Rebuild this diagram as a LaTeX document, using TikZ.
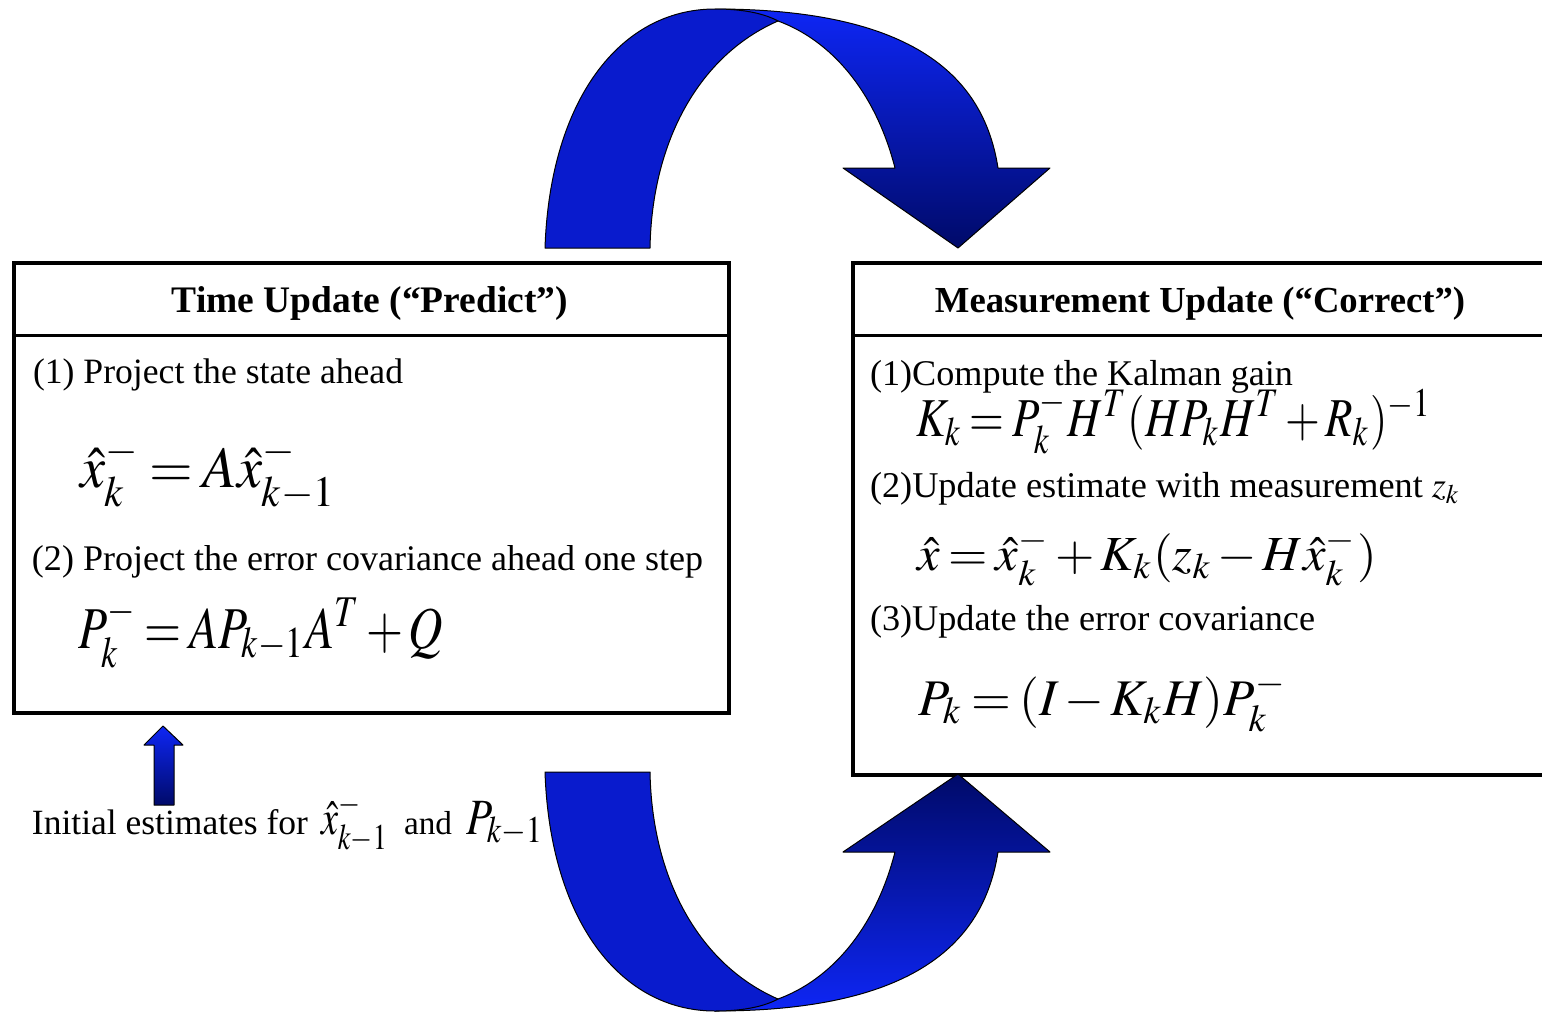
\documentclass[tikz,border=0pt]{standalone}
\usepackage{graphicx}
\usepackage{mathptmx}
\usepackage{fontspec}
\setmainfont{Liberation Serif}

\definecolor{leftblue}{RGB}{9,27,205}
\definecolor{brightblue}{RGB}{14,38,245}
\definecolor{midblue}{RGB}{10,30,212}
\definecolor{darkblue}{RGB}{0,10,105}

\newcommand{\fw}[2]{\resizebox{#1}{!}{#2}}
\newcommand{\fwh}[3]{\resizebox{#1}{#2}{#3}}
\newcommand{\tightm}{\thickmuskip=3mu \medmuskip=2mu}
\newcommand{\lsup}[1]{\raisebox{-0.45ex}{$\scriptstyle #1$}}

\begin{document}
\begin{tikzpicture}[x=0.5pt,y=-0.5pt,
  lbl/.style={anchor=base west, inner sep=0pt, outer sep=0pt},
  ttl/.style={anchor=base, inner sep=0pt, outer sep=0pt},
  boxst/.style={draw=black, line width=2pt, inner sep=0pt, fill=white},
  hdr/.style={line width=1.5pt},
  band/.style={draw=black, line width=0.5pt, line join=round},
]
\useasboundingbox (0,0) rectangle (1542,1012);
\clip (0,0) rectangle (1542,1012);

% boxes
\node[boxst, minimum width=357.5pt, minimum height=225pt] (tbox) at (371.5,488) {};
\node[boxst, minimum width=353.5pt, minimum height=256pt] (mbox) at (1206.5,519) {};
\draw[hdr] (tbox.west |- 0,335) -- (tbox.east |- 0,335);
\draw[hdr] (mbox.west |- 0,335) -- (mbox.east |- 0,335);

% top curved arrow: right band (behind)
\draw[band, top color=brightblue, middle color=midblue, bottom color=darkblue]
  (715,9) .. controls (925,9) and (985,85) .. (998,168) -- (1050,168) -- (958,248)
  -- (843,168) -- (895,168) .. controls (875,90) and (830,40) .. (778,21)
  .. controls (760,14) and (740,9) .. (715,9) -- cycle;
% top curved arrow: left band (front)
\draw[band, fill=leftblue]
  (545,248) .. controls (550,100) and (620,9) .. (715,9)
  .. controls (745,9) and (765,14) .. (778,21)
  .. controls (700,55) and (652,140) .. (650,248) -- cycle;

% bottom curved arrow: right band
\draw[band, top color=darkblue, middle color=midblue, bottom color=brightblue]
  (715,1011) .. controls (925,1011) and (985,935) .. (998,852) -- (1050,852) -- (958,774)
  -- (843,852) -- (895,852) .. controls (875,930) and (830,980) .. (778,999)
  .. controls (760,1006) and (740,1011) .. (715,1011) -- cycle;
% bottom curved arrow: left band
\draw[band, fill=leftblue]
  (545,772) .. controls (550,920) and (620,1011) .. (715,1011)
  .. controls (745,1011) and (765,1006) .. (778,999)
  .. controls (700,965) and (652,880) .. (650,772) -- cycle;

% small up arrow
\draw[band, top color=brightblue, bottom color=darkblue]
  (154,805) -- (154,745) -- (144,745) -- (163,726) -- (183,745) -- (174,745) -- (174,805) -- cycle;

% left box text
\node[ttl] (ttitle) at (370,312) {\fw{198pt}{\bfseries Time Update (“Predict”)}};
\node[lbl] (t1) at (33,383) {\fw{185pt}{(1) Project the state ahead}};
\node[lbl] (teq1) at (80,487) {\fwh{128.5pt}{24.5pt}{$\tightm\hat{x}_k^{\lsup{-}} = A\hat{x}_{k-1}^{\lsup{-}}$}};
\node[lbl] (t2) at (32,570) {\fw{335.5pt}{(2) Project the error covariance ahead one step}};
\node[lbl] (teq2) at (78,648) {\fwh{182.5pt}{25pt}{$\tightm P_k^{\lsup{-}} = AP_{k-1}A^T + Q$}};

% right box text
\node[ttl] (mtitle) at (1200,312) {\fw{265pt}{\bfseries Measurement Update (“Correct”)}};
\node[lbl] (m1) at (870,385) {\fw{211.5pt}{(1)Compute the Kalman gain}};
\node[lbl] (meq1) at (916,436) {\fwh{258pt}{23.5pt}{$\tightm K_k = P_k^{\lsup{-}} H^T(HP_kH^T + R_k)^{-1}$}};
\node[lbl] (m2) at (870,497) {\fw{295pt}{(2)Update estimate with measurement $z_k$}};
\node[lbl] (meq2) at (917,570) {\fwh{230pt}{20.5pt}{$\tightm \hat{x} = \hat{x}_k^{\lsup{-}} + K_k(z_k - H\hat{x}_k^{\lsup{-}})$}};
\node[lbl] (m3) at (870,630) {\fw{222.5pt}{(3)Update the error covariance}};
\node[lbl] (meq3) at (918,715) {\fwh{184.5pt}{21.5pt}{$\tightm P_k = (I - K_kH)P_k^{\lsup{-}}$}};

% initial estimates
\node[lbl] (init1) at (32,834) {\fw{138pt}{Initial estimates for}};
\node[lbl] (init2) at (321,834) {\fwh{34pt}{20.5pt}{$\hat{x}_{k-1}^{\lsup{-}}$}};
\node[lbl] (init3) at (404,834) {\fw{24pt}{and}};
\node[lbl] (init4) at (466,834) {\fwh{39pt}{16.5pt}{$P_{k-1}$}};
\end{tikzpicture}
\end{document}
